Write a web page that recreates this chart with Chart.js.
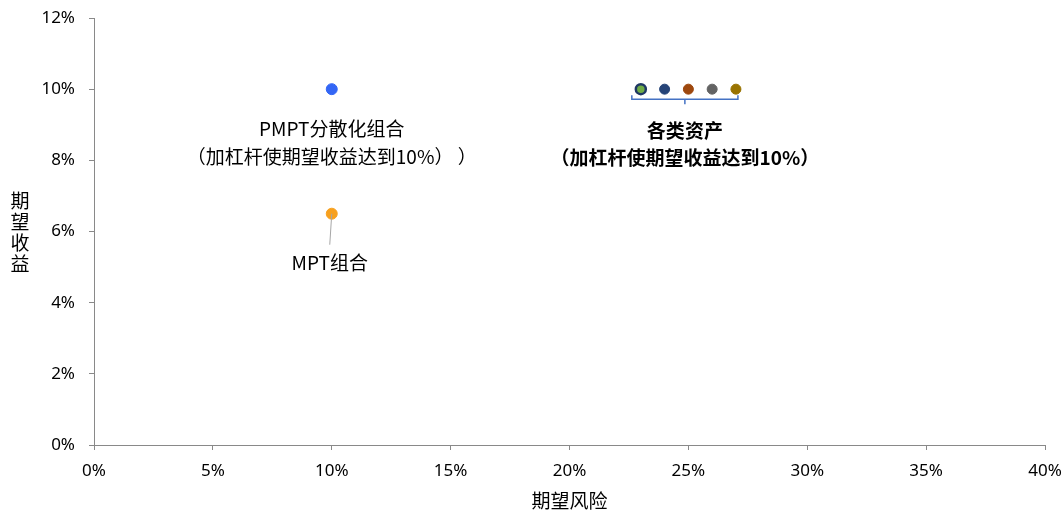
<!DOCTYPE html>
<html>
<head>
<meta charset="utf-8">
<script src="https://cdn.jsdelivr.net/npm/chart.js@4/dist/chart.umd.min.js"></script>
<style>
  html, body { margin: 0; padding: 0; background: #fff; }
  #wrap { width: 1064px; height: 512px; }
</style>
</head>
<body>
<div id="wrap"><canvas id="c" width="1064" height="512"></canvas></div>
<script>
// 数据
const pmptRisk = [10];
const pmptReturn = [10];
const mptRisk = [10];
const mptReturn = [6.5];
const assetRisk = [23, 24, 25, 26, 27];
const assetReturn = [10, 10, 10, 10, 10];
const assetColors = ['#70AD47', '#264478', '#9E480E', '#636363', '#997300'];
const assetBorders = ['#1F3864', '#264478', '#9E480E', '#636363', '#997300'];
const xTicks = [0, 5, 10, 15, 20, 25, 30, 35, 40];
const yTicks = [0, 2, 4, 6, 8, 10, 12];

const CJK = '"Noto Sans CJK SC", "Noto Sans", sans-serif';
const axisColor = '#898989';

function pts(xs, ys) {
  return xs.map((x, i) => ({ x: x, y: ys[i] }));
}

// 注释文字、引线和括号
const annot = {
  id: 'annot',
  afterDatasetsDraw(chart) {
    const ctx = chart.ctx;
    const xs = chart.scales.x, ys = chart.scales.y;
    ctx.save();
    ctx.fillStyle = '#000';
    ctx.textAlign = 'center';
    ctx.textBaseline = 'middle';

    // PMPT
    const px = xs.getPixelForValue(pmptRisk[0]);
    const py = ys.getPixelForValue(pmptReturn[0]);
    ctx.font = '19px ' + CJK;
    ctx.fillText('PMPT分散化组合', px, py + 40);
    ctx.fillText('（加杠杆使期望收益达到10%） ）', px, py + 68);

    // MPT
    const mx = xs.getPixelForValue(mptRisk[0]);
    const my = ys.getPixelForValue(mptReturn[0]);
    ctx.strokeStyle = '#a6a6a6';
    ctx.lineWidth = 1;
    ctx.beginPath();
    ctx.moveTo(mx, my);
    ctx.lineTo(mx - 2, my + 31);
    ctx.stroke();
    ctx.fillText('MPT组合', mx - 2, my + 49);

    // 各类资产括号
    const x0 = xs.getPixelForValue(assetRisk[0]) - 9;
    const x1 = xs.getPixelForValue(assetRisk[assetRisk.length - 1]) + 2;
    const ay = ys.getPixelForValue(assetReturn[0]);
    const xm = (x0 + x1) / 2;
    ctx.strokeStyle = '#4472C4';
    ctx.lineWidth = 1.5;
    ctx.beginPath();
    ctx.moveTo(x0, ay + 6);
    ctx.lineTo(x0, ay + 10);
    ctx.lineTo(x1, ay + 10);
    ctx.lineTo(x1, ay + 6);
    ctx.moveTo(xm, ay + 10);
    ctx.lineTo(xm, ay + 15);
    ctx.stroke();

    ctx.font = 'bold 19px ' + CJK;
    ctx.fillText('各类资产', xm, ay + 42);
    ctx.fillText('（加杠杆使期望收益达到10%）', xm, ay + 69);

    // y 轴标题（竖排）
    ctx.font = '19px ' + CJK;
    const t = ['期', '望', '收', '益'];
    t.forEach((ch, i) => ctx.fillText(ch, 20, 201 + i * 21));
    ctx.restore();
  }
};

new Chart(document.getElementById('c'), {
  type: 'scatter',
  data: {
    datasets: [
      {
        label: 'PMPT',
        data: pts(pmptRisk, pmptReturn),
        backgroundColor: '#3366F5',
        borderColor: '#3366F5',
        pointRadius: 5.5
      },
      {
        label: 'MPT',
        data: pts(mptRisk, mptReturn),
        backgroundColor: '#F7A01E',
        borderColor: '#F7A01E',
        pointRadius: 5.5
      },
      {
        label: '各类资产',
        data: pts(assetRisk, assetReturn),
        backgroundColor: assetColors,
        borderColor: assetBorders,
        borderWidth: [2.5, 1, 1, 1, 1],
        pointRadius: 5
      }
    ]
  },
  options: {
    responsive: false,
    animation: false,
    layout: { padding: { left: 0, right: 19, top: 18, bottom: 0 } },
    plugins: {
      legend: { display: false },
      tooltip: { enabled: false }
    },
    scales: {
      x: {
        type: 'linear',
        min: 0, max: 40,
        afterBuildTicks: s => { s.ticks = xTicks.map(v => ({ value: v })); },
        afterFit: s => { s.height = 67; s.paddingLeft = 0; s.paddingRight = 0; },
        border: { display: true, color: axisColor, width: 1 },
        grid: { display: true, drawOnChartArea: false, drawTicks: true, tickLength: 5, color: axisColor },
        ticks: {
          color: '#000',
          padding: 11,
          font: { family: 'Noto Sans', size: 17 },
          maxRotation: 0,
          callback: v => v + '%'
        },
        title: {
          display: true,
          text: '期望风险',
          color: '#000',
          font: { family: CJK, size: 19 },
          padding: { top: 2, bottom: 0 }
        }
      },
      y: {
        type: 'linear',
        min: 0, max: 12,
        afterBuildTicks: s => { s.ticks = yTicks.map(v => ({ value: v })); },
        afterFit: s => { s.width = 94; s.paddingTop = 0; s.paddingBottom = 0; },
        border: { display: true, color: axisColor, width: 1 },
        grid: { display: true, drawOnChartArea: false, drawTicks: true, tickLength: 5, color: axisColor },
        ticks: {
          color: '#000',
          padding: 14,
          font: { family: 'Noto Sans', size: 17 },
          callback: v => v + '%'
        }
      }
    }
  },
  plugins: [annot]
});
</script>
</body>
</html>
